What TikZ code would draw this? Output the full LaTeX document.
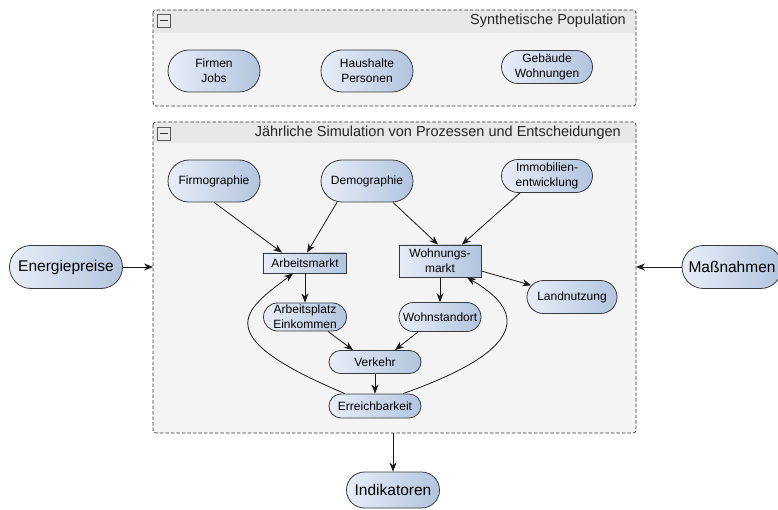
\documentclass[tikz,border=0pt]{standalone}
\usepackage{fontspec}
\setmainfont{Liberation Sans}
\usetikzlibrary{arrows.meta,shapes.misc}
\definecolor{nlight}{HTML}{E8EEF8}
\definecolor{ndark}{HTML}{B2C4DE}
\definecolor{nborder}{HTML}{3A3A3A}
\definecolor{gbody}{HTML}{F4F4F4}
\definecolor{ghead}{HTML}{E8E8E8}
\definecolor{gline}{HTML}{333333}
\tikzset{
  pill/.style={rounded rectangle, draw=nborder, line width=0.8pt, left color=nlight, right color=ndark,
    inner sep=0pt, align=center, font=\fontsize{12}{15}\selectfont},
  bigpill/.style={pill, font=\fontsize{15.5}{18}\selectfont},
  rbox/.style={rectangle, draw=nborder, line width=0.8pt, left color=nlight, right color=ndark,
    inner sep=0pt, align=center, font=\fontsize{12}{15}\selectfont},
  arr/.style={draw=black!90, line width=0.8pt, -{Stealth[length=9pt,width=7pt]}},
  grp/.style={draw=gline, line width=0.7pt, dash pattern=on 3.5pt off 2pt, rounded corners=3pt},
  title/.style={anchor=east, inner sep=0pt, font=\fontsize{14.5}{16}\selectfont, text=black!85},
  minus/.style={draw=black!65, fill=white!92!black, line width=0.7pt, minimum width=13pt, minimum height=13pt, inner sep=0pt}
}
\begin{document}
\begin{tikzpicture}[x=1pt,y=-1pt]
\useasboundingbox (0,0) rectangle (778,510);
\clip (0,0) rectangle (778,510);
% group 1
\fill[gbody, rounded corners=3pt] (153,10) rectangle (636,106);
\fill[ghead, rounded corners=3pt] (153,10) rectangle (636,33);
\fill[ghead] (153,22) rectangle (636,33);
\draw[grp] (153,10) rectangle (636,106);
\node[minus] (m1) at (164,21) {};
\draw[black!80, line width=1pt] (160,21) -- (168,21);
\node[title] (t1) at (626,21) {Synthetische Population};
% group 2
\fill[gbody, rounded corners=3pt] (153,122) rectangle (636,433);
\fill[ghead, rounded corners=3pt] (153,122) rectangle (636,143);
\fill[ghead] (153,133) rectangle (636,143);
\draw[grp] (153,122) rectangle (636,433);
\node[minus] (m2) at (164,134) {};
\draw[black!80, line width=1pt] (160,134) -- (168,134);
\node[title] (t2) at (621,133) {Jährliche Simulation von Prozessen und Entscheidungen};

% population nodes
\node[pill, minimum width=92pt, minimum height=42pt] (firmen) at (214,71) {Firmen\\Jobs};
\node[pill, minimum width=92pt, minimum height=42pt] (haus) at (367,71) {Haushalte\\Personen};
\node[pill, minimum width=91pt, minimum height=33pt] (geb) at (547,67) {Gebäude\\Wohnungen};

% simulation nodes
\node[pill, minimum width=92pt, minimum height=42pt] (firm) at (214,181) {Firmographie};
\node[pill, minimum width=92pt, minimum height=42pt] (demo) at (367,181) {Demographie};
\node[pill, minimum width=91pt, minimum height=33pt] (immo) at (547,176) {Immobilien-\\entwicklung};
\node[rbox, minimum width=83pt, minimum height=20pt] (arb) at (305,263) {Arbeitsmarkt};
\node[rbox, minimum width=82pt, minimum height=32pt] (wohn) at (440,261) {Wohnungs-\\markt};
\node[pill, minimum width=90pt, minimum height=33pt] (land) at (572,297) {Landnutzung};
\node[pill, minimum width=83pt, minimum height=28pt] (ap) at (305,317) {Arbeitsplatz\\Einkommen};
\node[pill, minimum width=82pt, minimum height=29pt] (ws) at (440,317) {Wohnstandort};
\node[pill, minimum width=92pt, minimum height=23pt] (verk) at (375,362) {Verkehr};
\node[pill, minimum width=92pt, minimum height=24pt] (err) at (375,406) {Erreichbarkeit};

% outer nodes
\node[bigpill, minimum width=113pt, minimum height=43pt] (ener) at (66,267) {Energiepreise};
\node[bigpill, minimum width=100pt, minimum height=43pt] (mass) at (732,267) {Maßnahmen};
\node[bigpill, minimum width=93pt, minimum height=36pt] (indi) at (393,490) {Indikatoren};

\coordinate (g2w) at (153,267);
\coordinate (g2e) at (636,267);
\coordinate (g2s) at (393,433);

% edges
\draw[arr] (firm.south) -- ([xshift=-23pt]arb.north);
\draw[arr] ([xshift=-30pt]demo.south) -- ([xshift=2pt]arb.north);
\draw[arr] ([xshift=26pt]demo.south) -- ([xshift=-2pt]wohn.north);
\draw[arr] ([xshift=-27pt]immo.south) -- ([xshift=22pt]wohn.north);
\draw[arr] (arb.south) -- (ap.north);
\draw[arr] (wohn.south) -- (ws.north);
\draw[arr] ([yshift=-10pt]wohn.east) -- (land.164);
\draw[arr] ([xshift=23pt]ap.south) -- ([xshift=-22pt]verk.north);
\draw[arr] ([xshift=-22pt]ws.south) -- ([xshift=20pt]verk.north);
\draw[arr] (verk.south) -- (err.north);
\draw[arr] ([xshift=-30pt]err.north) .. controls (205,335) and (245,310) .. ([xshift=-12pt]arb.south);
\draw[arr] ([xshift=28pt]err.north) .. controls (555,340) and (505,300) .. ([xshift=27pt]wohn.south);
\draw[arr] (ener.east) -- (g2w);
\draw[arr] (mass.west) -- (g2e);
\draw[arr] (g2s) -- (indi.north);
\end{tikzpicture}
\end{document}
